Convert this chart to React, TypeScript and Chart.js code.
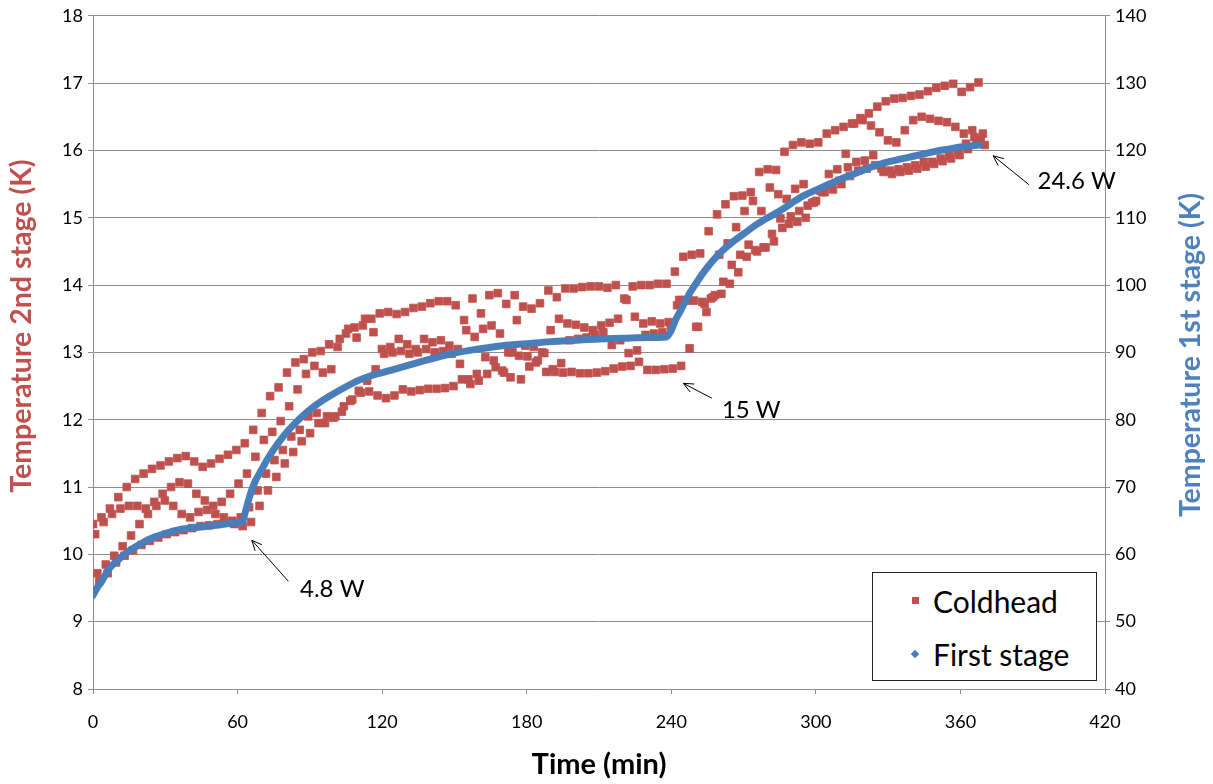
import React, { useEffect, useRef } from 'react';
import { Chart, registerables } from 'chart.js';

Chart.register(...registerables);

// ---------- DATA ----------
// Coldhead (2nd stage, K) – four interleaved sample traces, one sample every 3.5 min per trace
const coldSampleStep = 3.5;
const coldTraceOffsets = [0, 0.9, 1.8, 2.6];

const coldheadUpper = [
  10.45, 10.55, 10.68, 10.85, 11.0, 11.12, 11.2, 11.27, 11.32, 11.38,
  11.43, 11.46, 11.38, 11.3, 11.35, 11.42, 11.48, 11.55, 11.65, 11.85,
  12.1, 12.35, 12.48, 12.7, 12.85, 12.9, 13.0, 13.02, 13.12, 13.08,
  13.28, 13.37, 13.4, 13.5, 13.58, 13.6, 13.57, 13.6, 13.66, 13.68,
  13.73, 13.76, 13.76, 13.7, 13.48, 13.8, 13.58, 13.85, 13.88, 13.72,
  13.85, 13.68, 13.65, 13.73, 13.92, 13.82, 13.95, 13.95, 13.97, 13.98,
  13.98, 13.96, 14.0, 13.8, 13.98, 14.0, 14.0, 14.02, 14.02, 14.2,
  14.42, 14.45, 14.47, 14.8, 15.05, 15.2, 15.32, 15.33, 15.38, 15.68,
  15.72, 15.71, 15.98, 16.08, 16.12, 16.1, 16.12, 16.25, 16.3, 16.35,
  16.4, 16.48, 16.55, 16.65, 16.73, 16.77, 16.78, 16.81, 16.83, 16.88,
  16.93, 16.96, 16.99, 16.87, 16.94, 17.01,
];

const coldheadUpperMid = [
  10.3, 10.48, 10.6, 10.68, 10.72, 10.72, 10.68, 10.78, 10.9, 11.0,
  11.07, 11.05, 10.9, 10.8, 10.72, 10.78, 10.9, 11.05, 11.2, 11.45,
  11.7, 11.82, 11.98, 12.2, 12.45, 12.68, 12.8, 12.7, 12.75, 13.2,
  13.35, 13.22, 13.5, 13.3, 13.05, 13.08, 13.2, 13.12, 13.05, 13.2,
  13.15, 13.18, 13.1, 13.05, 13.33, 13.23, 13.35, 13.4, 13.28, 13.0,
  13.48, 13.1, 13.08, 13.0, 13.33, 13.5, 13.43, 13.41, 13.37, 13.33,
  13.4, 13.44, 13.5, 13.78, 13.53, 13.43, 13.46, 13.43, 13.45, 13.7,
  13.78, 13.77, 13.75, 13.8, 14.45, 14.62, 14.86, 15.1, 15.25, 15.1,
  15.45, 15.35, 15.28, 15.43, 15.5, 15.22, 15.4, 15.65, 15.72, 15.95,
  16.4, 16.45, 16.37, 16.27, 16.15, 16.12, 16.3, 16.45, 16.5, 16.47,
  16.44, 16.42, 16.35, 16.25, 16.3, 16.17,
];

const coldheadLowerMid = [
  9.72, 9.85, 9.98, 10.12, 10.28, 10.45, 10.6, 10.72, 10.8, 10.72,
  10.6, 10.55, 10.63, 10.66, 10.6, 10.55, 10.5, 10.55, 10.7, 10.95,
  11.2, 11.4, 11.55, 11.75, 11.85, 12.05, 12.1, 11.95, 12.03, 12.12,
  12.28, 12.43, 12.58, 12.75, 12.98, 13.0, 13.02, 12.98, 13.0, 13.05,
  13.0, 13.02, 12.98, 12.83, 12.6, 12.68, 12.93, 12.88, 12.73, 12.63,
  12.95, 12.94, 12.85, 12.99, 12.75, 12.84, 13.18, 13.2, 13.22, 13.27,
  13.3, 13.11, 13.18, 12.99, 13.03, 13.26, 13.28, 13.3, 13.4, 13.78,
  13.77, 13.38, 13.72, 13.82, 13.87, 14.02, 14.19, 14.42, 14.52, 14.56,
  14.76, 14.99, 14.91, 14.94, 15.0, 15.23, 15.38, 15.48, 15.55, 15.75,
  15.83, 15.85, 15.93, 15.73, 15.7, 15.72, 15.75, 15.78, 15.83, 15.83,
  15.88, 15.92, 15.98, 16.1, 16.2, 16.25,
];

const coldheadLower = [
  9.6, 9.72, 9.88, 9.98, 10.06, 10.14, 10.2, 10.25, 10.3, 10.33,
  10.36, 10.39, 10.42, 10.43, 10.45, 10.47, 10.45, 10.42, 10.48, 10.72,
  10.95, 11.15, 11.35, 11.52, 11.68, 11.8, 11.95, 12.05, 12.05, 12.2,
  12.3, 12.4, 12.42, 12.36, 12.32, 12.36, 12.45, 12.42, 12.44, 12.46,
  12.46, 12.47, 12.5, 12.6, 12.53, 12.58, 12.68, 12.78, 12.7, 13.0,
  12.6, 12.79, 12.88, 12.71, 12.71, 12.7, 12.71, 12.69, 12.69, 12.7,
  12.72, 12.76, 12.79, 12.8, 12.86, 12.74, 12.74, 12.75, 12.76, 12.8,
  13.06, 13.38, 13.6, 13.85, 14.05, 14.3, 14.45, 14.6, 14.5, 14.56,
  14.65, 14.85, 15.02, 15.1, 15.18, 15.25, 15.38, 15.42, 15.5, 15.62,
  15.7, 15.73, 15.78, 15.68, 15.65, 15.68, 15.7, 15.73, 15.76, 15.8,
  15.84, 15.88, 15.93, 16.02, 16.12, 16.08,
];

// First stage (K, right axis)
const firstStageTimes = [
  0, 2, 4, 6, 8, 10, 12, 15, 18, 21, 25, 30, 35, 40, 45, 50, 55, 60, 62, 63,
  65, 67, 70, 73, 77, 81, 85, 90, 95, 100, 105, 110, 115, 120, 130, 140, 150,
  160, 170, 180, 190, 200, 210, 220, 230, 238, 240, 242, 244, 246, 248, 250,
  253, 256, 260, 265, 270, 275, 280, 285, 290, 295, 300, 305, 310, 315, 320,
  325, 330, 335, 340, 345, 350, 355, 360, 365, 368,
];
const firstStageValues = [
  53.9, 55.2, 56.2, 57.5, 58.4, 59.0, 59.7, 60.5, 61.2, 61.8, 62.5, 63.1, 63.6,
  63.9, 64.1, 64.3, 64.5, 64.7, 64.8, 66.0, 68.6, 70.6, 72.6, 74.5, 76.6, 78.4,
  79.9, 81.5, 82.8, 83.9, 84.9, 85.8, 86.5, 87.0, 88.0, 89.0, 89.9, 90.5, 91.0,
  91.3, 91.6, 91.8, 92.0, 92.1, 92.2, 92.3, 93.3, 95.0, 96.3, 97.7, 99.0, 100.1,
  101.7, 103.1, 104.7, 106.3, 107.6, 108.9, 110.0, 111.0, 112.2, 113.3, 114.1,
  114.9, 115.7, 116.4, 117.1, 117.8, 118.3, 118.7, 119.1, 119.5, 119.9, 120.2,
  120.5, 120.7, 120.8,
];

const seriesLabels = ['Coldhead', 'First stage'];
const xAxisTitle = 'Time (min)';
const leftAxisTitle = 'Temperature 2nd stage (K)';
const rightAxisTitle = 'Temperature 1st stage (K)';

// Annotations: [time, K on left axis]
const annotationTexts = ['4.8 W', '15 W', '24.6 W'];
const annotationHeads = [[65.9, 10.21], [245.0, 12.54], [373.6, 15.92]];
const annotationTails = [[81.1, 9.6], [256.8, 12.32], [388.5, 15.49]];
const annotationTextAt = [[85.9, 9.48], [261.0, 12.14], [392.0, 15.54]];

// ---------- STYLE ----------
const RED = '#c0504d';
const BLUE = '#4a7ebb';
const TITLE_BLUE = '#4f81bd';
const GRID = '#8e8e8e';
const FONT = "Lato, 'Open Sans', 'DejaVu Sans', sans-serif";

const coldTraces = [coldheadUpper, coldheadUpperMid, coldheadLowerMid, coldheadLower];

const annotationPlugin = {
  id: 'powerAnnotations',
  afterDatasetsDraw(chart: any) {
    const { ctx, scales } = chart;
    const x = scales.x;
    const y = scales.y;
    ctx.save();
    ctx.strokeStyle = '#000';
    ctx.fillStyle = '#000';
    ctx.lineWidth = 1;
    annotationTexts.forEach((txt, i) => {
      const hx = x.getPixelForValue(annotationHeads[i][0]);
      const hy = y.getPixelForValue(annotationHeads[i][1]);
      const tx = x.getPixelForValue(annotationTails[i][0]);
      const ty = y.getPixelForValue(annotationTails[i][1]);
      ctx.beginPath();
      ctx.moveTo(tx, ty);
      ctx.lineTo(hx, hy);
      const ang = Math.atan2(hy - ty, hx - tx);
      const len = 11;
      const spread = 0.42;
      ctx.moveTo(hx - len * Math.cos(ang - spread), hy - len * Math.sin(ang - spread));
      ctx.lineTo(hx, hy);
      ctx.lineTo(hx - len * Math.cos(ang + spread), hy - len * Math.sin(ang + spread));
      ctx.stroke();
      ctx.font = `24px ${FONT}`;
      ctx.textAlign = 'left';
      ctx.textBaseline = 'middle';
      ctx.fillText(txt, x.getPixelForValue(annotationTextAt[i][0]), y.getPixelForValue(annotationTextAt[i][1]));
    });
    ctx.restore();
  },
  afterDraw(chart: any) {
    const { ctx } = chart;
    ctx.save();
    ctx.font = `bold 28.5px ${FONT}`;
    ctx.textAlign = 'center';
    ctx.textBaseline = 'middle';
    ctx.save();
    ctx.translate(22, 326);
    ctx.rotate(-Math.PI / 2);
    ctx.fillStyle = RED;
    ctx.fillText(leftAxisTitle, 0, 0);
    ctx.restore();
    ctx.save();
    ctx.translate(1191, 355);
    ctx.rotate(-Math.PI / 2);
    ctx.fillStyle = TITLE_BLUE;
    ctx.fillText(rightAxisTitle, 0, 0);
    ctx.restore();
    ctx.restore();
  },
};

export default function App() {
  const canvasRef = useRef<HTMLCanvasElement | null>(null);

  useEffect(() => {
    if (!canvasRef.current) return;
    const coldPoints: { x: number; y: number }[] = [];
    coldTraces.forEach((trace, k) => {
      trace.forEach((v, i) => {
        coldPoints.push({ x: coldTraceOffsets[k] + i * coldSampleStep, y: v });
      });
    });
    const firstPoints = firstStageTimes.map((t, i) => ({ x: t, y: firstStageValues[i] }));

    const chart = new Chart(canvasRef.current, {
      type: 'scatter',
      data: {
        datasets: [
          {
            label: seriesLabels[1],
            data: firstPoints,
            yAxisID: 'y2',
            showLine: true,
            borderColor: BLUE,
            backgroundColor: BLUE,
            borderWidth: 7,
            borderCapStyle: 'round',
            borderJoinStyle: 'round',
            pointRadius: 0,
            cubicInterpolationMode: 'monotone',
            order: 0,
          } as any,
          {
            label: seriesLabels[0],
            data: coldPoints,
            yAxisID: 'y',
            backgroundColor: RED,
            borderColor: RED,
            borderWidth: 0.8,
            pointStyle: 'rect',
            pointRadius: 5.4,
            order: 1,
          } as any,
        ],
      },
      options: {
        responsive: false,
        animation: false,
        devicePixelRatio: 1,
        layout: { padding: { top: 15, left: 0, right: 0, bottom: 0 } },
        plugins: { legend: { display: false }, tooltip: { enabled: false } },
        scales: {
          x: {
            type: 'linear',
            position: 'bottom',
            min: 0,
            max: 420,
            afterFit: (s: any) => { s.height = 95; },
            ticks: { stepSize: 60, color: '#000', padding: 17, font: { family: FONT, size: 18 } },
            grid: { drawOnChartArea: false, drawTicks: true, tickLength: 5, color: GRID },
            border: { color: GRID, width: 1 },
            title: {
              display: true,
              text: xAxisTitle,
              color: '#000',
              padding: { top: 0, bottom: 2 },
              font: { family: FONT, size: 29, weight: 'bold' },
            },
          },
          y: {
            type: 'linear',
            position: 'left',
            min: 8,
            max: 18,
            afterFit: (s: any) => { s.width = 93; },
            ticks: { stepSize: 1, color: '#000', padding: 5, font: { family: FONT, size: 18 } },
            grid: { drawOnChartArea: true, drawTicks: true, tickLength: 5, color: GRID, lineWidth: 1 },
            border: { color: GRID, width: 1 },
            title: { display: false },
          },
          y2: {
            type: 'linear',
            position: 'right',
            min: 40,
            max: 140,
            afterFit: (s: any) => { s.width = 108; },
            ticks: { stepSize: 10, color: '#000', padding: 5, font: { family: FONT, size: 18 } },
            grid: { drawOnChartArea: false, drawTicks: true, tickLength: 5, color: GRID },
            border: { color: GRID, width: 1 },
            title: { display: false },
          },
        },
      } as any,
      plugins: [annotationPlugin],
    });
    return () => chart.destroy();
  }, []);

  return (
    <div style={{ position: 'absolute', left: 0, top: 0, width: 1213, height: 784, background: '#fff' }}>
      <canvas ref={canvasRef} width={1213} height={784} style={{ width: 1213, height: 784, display: 'block' }} />
      <div
        style={{
          position: 'absolute',
          left: 872,
          top: 572,
          width: 225,
          height: 109,
          boxSizing: 'border-box',
          border: '1.5px solid #222',
          background: '#fff',
          fontFamily: FONT,
          fontSize: 30,
          color: '#000',
        }}
      >
        <div style={{ position: 'absolute', left: 39, top: 24, width: 7, height: 7, background: RED }} />
        <div style={{ position: 'absolute', left: 60, top: 8, lineHeight: '40px', whiteSpace: 'nowrap' }}>{seriesLabels[0]}</div>
        <div
          style={{
            position: 'absolute',
            left: 39,
            top: 78,
            width: 6,
            height: 6,
            background: BLUE,
            transform: 'rotate(45deg)',
          }}
        />
        <div style={{ position: 'absolute', left: 60, top: 61, lineHeight: '40px', whiteSpace: 'nowrap' }}>{seriesLabels[1]}</div>
      </div>
    </div>
  );
}
